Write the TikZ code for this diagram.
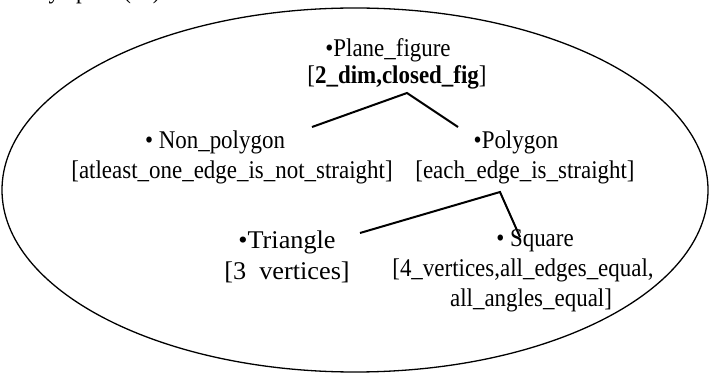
\documentclass[tikz,border=0pt]{standalone}
\usepackage{fontspec}
\setmainfont[FakeStretch=0.9]{Liberation Serif}
\newfontfamily\widefont[FakeStretch=1.03]{Liberation Serif}
\begin{document}
\begin{tikzpicture}[x=1pt,y=1pt,
  lbl/.style={align=center, inner sep=0pt, font=\fontsize{25.5}{30}\selectfont},
  link/.style={line width=2pt},
  rim/.style={line width=1.3pt}]
\useasboundingbox (0,0) rectangle (709,372);
\draw[rim] (355,182) ellipse [x radius=353, y radius=182];
\node[lbl, anchor=base west] (cut) at (37,373) {by ep3 = (e1)};
\node[lbl] (plane) at (397,308.5) {•Plane\_figure\hspace*{18pt}\\[-3pt]{[}\textbf{2\_dim,closed\_fig}{]}};
\node[lbl] (nonpoly) at (232,215) {• Non\_polygon\hspace*{34pt}\\{[}atleast\_one\_edge\_is\_not\_straight{]}};
\node[lbl] (poly) at (525,215) {•Polygon\hspace*{18pt}\\{[}each\_edge\_is\_straight{]}};
\node[lbl, font=\widefont\fontsize{25.5}{31}\selectfont] (tri) at (287,115.5) {•Triangle\\{[}3~~vertices{]}};
\node[lbl] (square) at (523,101) {\hspace*{24pt}• Square\\{[}4\_vertices,all\_edges\_equal,\\\hspace*{16pt}all\_angles\_equal{]}};
\coordinate (ja) at (407,279);
\coordinate (na) at (312,245);
\coordinate (pa) at (458,245);
\draw[link] (na) -- (ja) -- (pa);
\coordinate (jb) at (500,180);
\coordinate (ta) at (360,139);
\coordinate (sa) at (520,135);
\draw[link] (ta) -- (jb) -- (sa);
\end{tikzpicture}
\end{document}
